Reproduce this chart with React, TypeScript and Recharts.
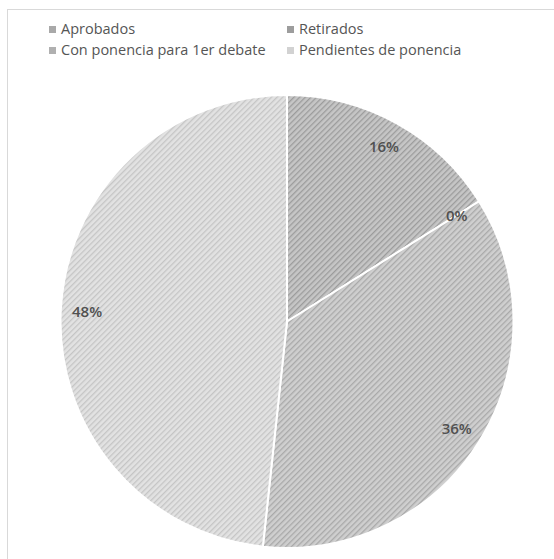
import { PieChart, Pie, Cell, Legend } from "recharts";

const CATEGORIES = [
  "Aprobados",
  "Retirados",
  "Con ponencia para 1er debate",
  "Pendientes de ponencia",
];
const VALUES = [16.1, 0, 35.6, 48.3];

const FILLS = ["url(#hatchA)", "url(#hatchB)", "url(#hatchC)", "url(#hatchD)"];
const SWATCHES = ["#a9a9a9", "#9d9d9d", "#b0b0b0", "#d2d2d2"];

const data = CATEGORIES.map((name, i) => ({ name, value: VALUES[i] }));

const RADIAN = Math.PI / 180;

const renderLabel = (props: any) => {
  const { cx, cy, midAngle, outerRadius, percent } = props;
  const r = outerRadius * 0.884;
  const x = cx + r * Math.cos(-midAngle * RADIAN);
  const y = cy + r * Math.sin(-midAngle * RADIAN);
  return (
    <text
      x={x}
      y={y}
      textAnchor="middle"
      dominantBaseline="central"
      fill="#505050"
      fontSize={15}
      fontWeight={600}
      fontFamily="'Open Sans', sans-serif"
    >
      {`${Math.round(percent * 100)}%`}
    </text>
  );
};

// legend keeps the series order (recharts sorts the payload by default)
const renderLegend = () => (
  <div
    style={{
      display: "grid",
      gridTemplateColumns: "238px 250px",
      lineHeight: "21px",
      fontFamily: "'Open Sans', sans-serif",
      fontSize: 14.5,
      color: "#555555",
    }}
  >
    {CATEGORIES.map((name, i) => (
      <div key={name} style={{ whiteSpace: "nowrap" }}>
        <span
          style={{
            display: "inline-block",
            width: 7,
            height: 7,
            marginRight: 5,
            background: SWATCHES[i],
            verticalAlign: "middle",
            position: "relative",
            top: -1,
          }}
        />
        {name}
      </div>
    ))}
  </div>
);

function Hatch({ id, base, line }: { id: string; base: string; line: string }) {
  return (
    <pattern
      id={id}
      width={4}
      height={4}
      patternUnits="userSpaceOnUse"
      patternTransform="rotate(45)"
    >
      <rect width={4} height={4} fill={base} />
      <rect width={1.3} height={4} fill={line} />
    </pattern>
  );
}

export default function App() {
  return (
    <div
      style={{
        position: "absolute",
        left: 0,
        top: 0,
        width: 554,
        height: 559,
        overflow: "hidden",
        background: "#fff",
      }}
    >
      <svg width={0} height={0} style={{ position: "absolute" }}>
        <defs>
          <Hatch id="hatchA" base="#c6c6c6" line="#9c9c9c" />
          <Hatch id="hatchB" base="#b5b5b5" line="#8e8e8e" />
          <Hatch id="hatchC" base="#cfcfcf" line="#a9a9a9" />
          <Hatch id="hatchD" base="#e2e2e2" line="#c5c5c5" />
        </defs>
      </svg>
      <div
        style={{
          position: "absolute",
          left: 7,
          top: 9,
          width: 600,
          height: 600,
          border: "1px solid #d9d9d9",
        }}
      />
      <div style={{ position: "absolute", left: 0, top: 0 }}>
        <PieChart width={554} height={559} margin={{ top: 0, right: 0, bottom: 0, left: 0 }}>
          <Pie
            data={data}
            dataKey="value"
            nameKey="name"
            cx={287}
            cy={321.5}
            outerRadius={226.5}
            startAngle={90}
            endAngle={-270}
            stroke="#ffffff"
            strokeWidth={2}
            label={renderLabel}
            labelLine={false}
            isAnimationActive={false}
          >
            {data.map((d, i) => (
              <Cell key={d.name} fill={FILLS[i]} />
            ))}
          </Pie>
          <Legend
            layout="horizontal"
            verticalAlign="middle"
            align="center"
            content={renderLegend}
            wrapperStyle={{ left: 49, top: 18, width: 500, height: 44 }}
          />
        </PieChart>
      </div>
    </div>
  );
}
